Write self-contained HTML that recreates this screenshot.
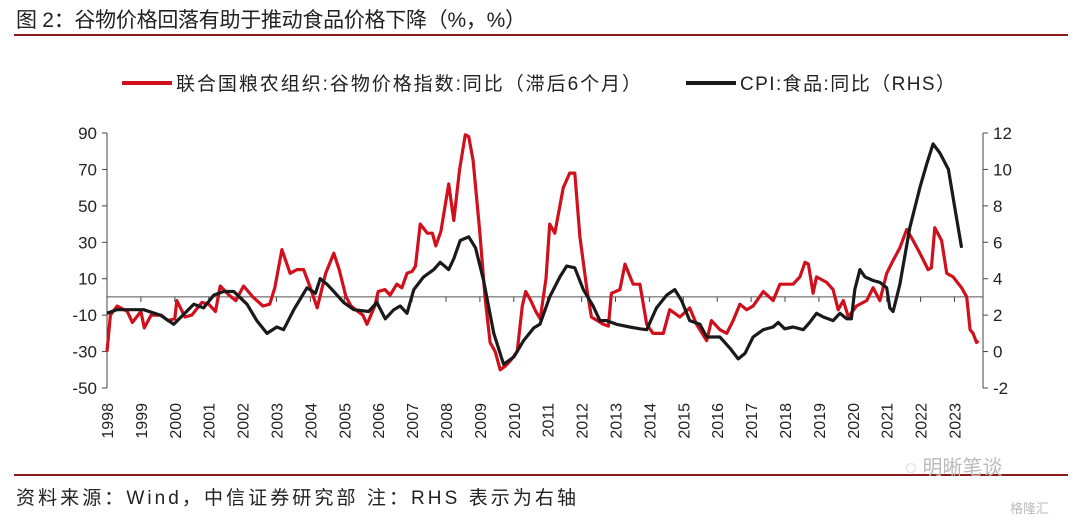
<!DOCTYPE html>
<html><head><meta charset="utf-8">
<style>
body{margin:0;background:#fff;width:1080px;height:522px;overflow:hidden;font-family:"Liberation Sans","Noto Sans CJK SC",sans-serif;}
</style></head>
<body>
<svg width="1080" height="522" style="position:absolute;left:0;top:0">
<text x="16" y="27" font-size="21" fill="#222" textLength="510" font-family="Liberation Sans, Noto Sans CJK SC, sans-serif">图 2：谷物价格回落有助于推动食品价格下降（%，%）</text>
<line x1="14" y1="35" x2="1068" y2="35" stroke="#8b1a1a" stroke-width="2"/>
<g>
<line x1="122" y1="83" x2="172" y2="83" stroke="#d0101c" stroke-width="4"/>
<text x="176" y="90" font-size="19" fill="#222" textLength="465">联合国粮农组织:谷物价格指数:同比（滞后6个月）</text>
<line x1="686" y1="83" x2="736" y2="83" stroke="#1a1a1a" stroke-width="4"/>
<text x="740" y="90" font-size="19" fill="#222" textLength="215">CPI:食品:同比（RHS）</text>
</g>
<g id="axes"></g>
<g id="plot"></g>
<line x1="14" y1="475" x2="1068" y2="475" stroke="#8b1a1a" stroke-width="2"/>
<text x="16" y="504" font-size="19" fill="#222" textLength="560">资料来源：Wind，中信证券研究部  注：RHS 表示为右轴</text>
<text x="905" y="474" font-size="20" fill="#bbb">◌ 明晰笔谈</text>
<text x="1010" y="513" font-size="13" fill="#bbb">格隆汇</text>
</svg>
<script>
const grainDates=[1998.0,1998.1,1998.3,1998.6,1998.75,1999.0,1999.1,1999.3,1999.6,1999.8,2000.0,2000.06,2000.3,2000.5,2000.8,2001.0,2001.2,2001.34,2001.6,2001.8,2002.03,2002.3,2002.6,2002.8,2002.95,2003.16,2003.4,2003.6,2003.8,2004.0,2004.2,2004.45,2004.69,2004.85,2005.05,2005.2,2005.4,2005.55,2005.67,2005.9,2006.0,2006.2,2006.35,2006.55,2006.7,2006.85,2007.0,2007.1,2007.24,2007.45,2007.6,2007.7,2007.85,2008.08,2008.23,2008.4,2008.57,2008.67,2008.8,2009.0,2009.15,2009.3,2009.45,2009.6,2009.75,2009.9,2010.1,2010.25,2010.35,2010.5,2010.65,2010.78,2010.95,2011.06,2011.21,2011.46,2011.65,2011.8,2011.95,2012.15,2012.29,2012.64,2012.79,2012.88,2013.13,2013.28,2013.52,2013.72,2013.92,2014.11,2014.41,2014.6,2014.9,2015.19,2015.39,2015.69,2015.83,2016.08,2016.28,2016.47,2016.67,2016.87,2017.06,2017.36,2017.65,2017.85,2018.24,2018.44,2018.59,2018.69,2018.83,2018.93,2019.23,2019.42,2019.57,2019.72,2019.87,2020.11,2020.41,2020.6,2020.8,2021.0,2021.19,2021.39,2021.59,2021.78,2021.98,2022.22,2022.32,2022.42,2022.62,2022.77,2022.96,2023.21,2023.36,2023.46,2023.55,2023.65,2023.7];
const grainValues=[-30,-10,-5,-8,-14,-8,-17,-10,-10,-13,-12,-2,-11,-10,-3,-4,-8,6,1,-2,6,0,-5,-4,5,26,13,15,15,5,-6,13,24,15,0,-5,-8,-10,-15,-5,3,4,1,7,5,13,14,17,40,35,35,28,36,62,42,70,89,88,75,35,0,-25,-30,-40,-38,-35,-30,-5,3,-2,-8,-12,10,40,35,60,68,68,33,5,-11,-15,-16,2,4,18,7,7,-15,-20,-20,-7,-11,-6,-15,-24,-13,-18,-20,-13,-4,-7,-5,3,-2,7,7,11,19,18,2,11,8,4,-7,-2,-11,-5,-2,5,-2,13,20,27,37,31,24,15,16,38,31,13,11,5,0,-18,-20,-25,-24];
const cpiDates=[1998.0,1998.29,1998.74,1999.08,1999.57,1999.97,2000.56,2000.85,2001.15,2001.44,2001.74,2002.13,2002.42,2002.72,2003.01,2003.21,2003.51,2003.9,2004.15,2004.29,2004.49,2004.69,2004.98,2005.28,2005.72,2005.96,2006.21,2006.46,2006.65,2006.85,2007.05,2007.34,2007.64,2007.83,2008.08,2008.23,2008.42,2008.67,2008.87,2009.11,2009.41,2009.7,2010.0,2010.29,2010.59,2010.77,2011.06,2011.36,2011.56,2011.8,2012.05,2012.34,2012.54,2012.74,2013.03,2013.42,2013.72,2013.92,2014.21,2014.51,2014.75,2014.95,2015.19,2015.49,2015.69,2016.08,2016.37,2016.62,2016.82,2017.06,2017.36,2017.65,2017.8,2017.99,2018.24,2018.54,2018.73,2018.93,2019.13,2019.42,2019.62,2019.82,2019.96,2020.06,2020.21,2020.36,2020.6,2020.8,2021.0,2021.09,2021.19,2021.39,2021.68,2021.98,2022.18,2022.37,2022.57,2022.82,2023.01,2023.21];
const cpiValues=[2.1,2.3,2.3,2.3,2.0,1.5,2.6,2.4,3.1,3.3,3.3,2.6,1.7,1.0,1.35,1.2,2.3,3.5,3.2,4.0,3.7,3.3,2.7,2.3,2.2,2.7,1.8,2.3,2.5,2.1,3.4,4.1,4.5,4.9,4.5,5.1,6.1,6.3,5.7,3.9,1.0,-0.7,-0.3,0.6,1.3,1.5,3.0,4.1,4.7,4.6,3.4,2.5,1.7,1.7,1.5,1.35,1.25,1.2,2.4,3.1,3.4,2.8,1.7,1.5,0.8,0.8,0.2,-0.4,-0.1,0.8,1.2,1.35,1.6,1.25,1.35,1.2,1.6,2.1,1.9,1.7,2.1,1.8,1.8,3.4,4.5,4.1,3.9,3.8,3.5,2.4,2.2,3.7,6.8,9.0,10.3,11.4,10.9,10.0,7.9,5.7];
const leftTicks=[90,70,50,30,10,-10,-30,-50];
const rightTicks=[12,10,8,6,4,2,0,-2];
const yearLabels=["1998","1999","2000","2001","2002","2003","2004","2005","2006","2007","2008","2009","2010","2011","2012","2013","2014","2015","2016","2017","2018","2019","2020","2021","2022","2023"];

const NS="http://www.w3.org/2000/svg";
const X0=107,X1=983,Y0=133,Y1=388;
const xS=t=>107+(t-1998)*33.9;
const yL=v=>Y0+(90-v)*(Y1-Y0)/140;
const yR=v=>Y0+(12-v)*(Y1-Y0)/14;
function mk(tag,attrs,parent){const e=document.createElementNS(NS,tag);for(const k in attrs)e.setAttribute(k,attrs[k]);parent.appendChild(e);return e;}
const axes=document.getElementById('axes'),plot=document.getElementById('plot');
let e;
e=mk('line',{x1:X0,y1:Y0,x2:X0,y2:Y1,stroke:'#444','stroke-width':1},axes);


e=mk('line',{x1:X1,y1:Y0,x2:X1,y2:Y1,stroke:'#444','stroke-width':1},axes);


e=mk('line',{x1:X0,y1:yL(0),x2:X1,y2:yL(0),stroke:'#555','stroke-width':1},axes);


leftTicks.forEach(v=>{
  const y=yL(v);
  mk('line',{x1:X0-5,y1:y,x2:X0,y2:y,stroke:'#444'},axes);
  const t=mk('text',{x:X0-10,y:y+6,'font-size':17,'text-anchor':'end',fill:'#222'},axes);
  t.textContent=v;
  
  
});
rightTicks.forEach(v=>{
  const y=yR(v);
  mk('line',{x1:X1,y1:y,x2:X1+5,y2:y,stroke:'#444'},axes);
  const t=mk('text',{x:X1+10,y:y+6,'font-size':17,'text-anchor':'start',fill:'#222'},axes);
  t.textContent=v;
  
  
});
yearLabels.forEach(s=>{
  const x=xS(+s);
  mk('line',{x1:x,y1:yL(0),x2:x,y2:yL(0)+5,stroke:'#444'},axes);
  const t=mk('text',{x:0,y:0,'font-size':16,'text-anchor':'end',fill:'#222',transform:`translate(${x+6},${403}) rotate(-90)`},axes);
  t.textContent=s;
  
  
});
function path(dates,vals,yf,color,name){
  const d=dates.map((t,i)=>(i?'L':'M')+xS(t).toFixed(1)+','+yf(vals[i]).toFixed(1)).join('');
  const p=mk('path',{d:d,fill:'none',stroke:color,'stroke-width':3.2,'stroke-linejoin':'round'},plot);
  
  
}
path(grainDates,grainValues,yL,'#d0101c','grain-price-line');
path(cpiDates,cpiValues,yR,'#1a1a1a','cpi-food-line');
</script>
</body></html>
